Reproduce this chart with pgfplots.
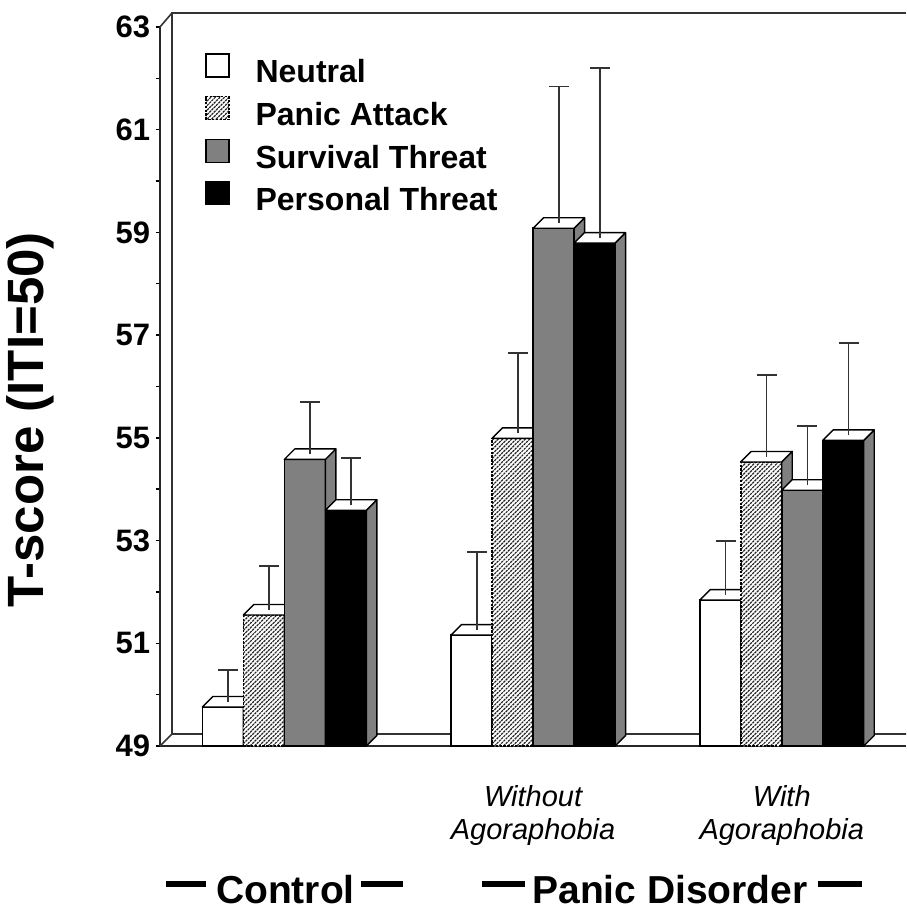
\documentclass[border=0pt]{standalone}
\usepackage{pgfplots}
\pgfplotsset{compat=1.18}
\usepackage{pgfplotstable}
\usepackage{fontspec}
\setmainfont{Liberation Sans}
\usetikzlibrary{patterns.meta,calc}

\pgfplotstableread{
g v top
0 49.76 50.48
1 51.16 52.77
2 51.84 52.99
}\tabN
\pgfplotstableread{
g v top
0 51.55 52.50
1 54.99 56.65
2 54.53 56.22
}\tabP
\pgfplotstableread{
g v top
0 54.58 55.69
1 59.08 61.84
2 53.98 55.23
}\tabS
\pgfplotstableread{
g v top
0 53.59 54.60
1 58.79 62.20
2 54.95 56.85
}\tabT

% 3D top and side faces of a bar, drawn at the bar's data point
\newcommand\drawfaces[2]{%
  \pgfmathsetmacro\hh{(\val-49)*25.68}%
  \filldraw[fill=#2, draw=black, line width=0.7pt, line join=round]
    (#1+10.25pt,0pt) -- ++(5.25pt,5.25pt) -- ++(0pt,-\hh pt) -- ++(-5.25pt,-5.25pt) -- cycle;
  \filldraw[fill=white, draw=black, line width=0.7pt, line join=round]
    (#1-10.25pt,0pt) -- ++(5.25pt,5.25pt) -- ++(20.5pt,0pt) -- ++(-5.25pt,-5.25pt) -- cycle;
}
\pgfplotsset{
  faces/.style 2 args={forget plot, only marks, mark=text, text mark={},
    scatter, visualization depends on={rawy \as \val},
    scatter/@pre marker code/.code={\drawfaces{#1}{#2}},
    scatter/@post marker code/.code={}},
  errs/.style={forget plot, draw=none, mark=none,
    error bars/.cd, y dir=plus, y explicit, error mark=|,
    error bar style={draw=black!80, line width=0.9pt},
    error mark options={draw=black!80, line width=0.9pt, mark size=5pt}},
  hatch/.style={fill=white, postaction={pattern={Lines[angle=45,distance=1.6pt,line width=0.6pt]}, pattern color=black!85}},
}

\begin{document}
\begin{tikzpicture}
\begin{axis}[
  x=124.35pt, y=25.68pt, xmin=-0.5, xmax=2.5, ymin=49, ymax=63,
  axis x line=bottom, axis y line=left,
  axis line style={-, line width=0.9pt, black!85},
  clip=true, clip mode=individual,
  ytick={49,51,...,63}, minor ytick={50,52,...,62},
  tick align=outside, major tick length=2.2pt, minor tick length=1.8pt,
  every tick/.style={line width=0.7pt, black},
  yticklabel style={font=\fontsize{15.5}{15.5}\selectfont\bfseries, inner xsep=2.5pt},
  /pgf/number format/assume math mode=true,
  xtick={1,2}, xticklabels={{Without\\Agoraphobia},{With\\Agoraphobia}},
  xticklabel style={align=center, font=\fontsize{14.5}{16.5}\selectfont\itshape, yshift=-14pt},
  x tick style={draw=none},
  legend image code/.code={\draw[#1, line width=0.6pt] (0pt,-1pt) rectangle (11.5pt,10.5pt);},
  legend style={at={(rel axis cs:0,1)}, anchor=north west, xshift=22.5pt, yshift=-13pt,
    draw=none, fill=none, inner sep=0pt, row sep=2.5pt, column sep=13pt,
    font=\fontsize{16}{16}\selectfont\bfseries,
    nodes={inner sep=0pt, text height=12pt, text depth=4pt}},
  legend cell align=left,
]
% 3D wall and floor
\draw[line width=0.8pt, black!80] (rel axis cs:0,0) -- ++(6pt,6pt) -- ++(367pt,0pt);
\draw[line width=0.8pt, black!80] (rel axis cs:0,0) ++(6pt,6pt) -- ++(0pt,360.5pt) -- ++(367pt,0pt);
\draw[line width=0.8pt, black!80] (rel axis cs:0,1) -- ++(6pt,7pt);
\coordinate (bl) at (rel axis cs:0,0);

\addplot[ybar, bar width=20.5pt, bar shift=-30.75pt, fill=white, draw=black, line width=0.8pt] table[x=g,y=v] {\tabN};
\addlegendentry{Neutral}
\addplot[faces={-30.75pt}{white}] table[x=g,y=v] {\tabN};
\addplot[errs] table[x expr=\thisrow{g}-0.2262, y expr=\thisrow{v}+0.1022, y error plus expr=\thisrow{top}-\thisrow{v}-0.1022] {\tabN};

\addplot[ybar, bar width=20.5pt, bar shift=-10.25pt, hatch, draw=black, line width=0.8pt, dash pattern=on 1.2pt off 0.7pt] table[x=g,y=v] {\tabP};
\addlegendentry{Panic Attack}
\addplot[faces={-10.25pt}{black!50}] table[x=g,y=v] {\tabP};
\addplot[errs] table[x expr=\thisrow{g}-0.0613, y expr=\thisrow{v}+0.1022, y error plus expr=\thisrow{top}-\thisrow{v}-0.1022] {\tabP};

\addplot[ybar, bar width=20.5pt, bar shift=10.25pt, fill=black!50, draw=black, line width=0.8pt] table[x=g,y=v] {\tabS};
\addlegendentry{Survival Threat}
\addplot[faces={10.25pt}{black!50}] table[x=g,y=v] {\tabS};
\addplot[errs] table[x expr=\thisrow{g}+0.1035, y expr=\thisrow{v}+0.1022, y error plus expr=\thisrow{top}-\thisrow{v}-0.1022] {\tabS};

\addplot[ybar, bar width=20.5pt, bar shift=30.75pt, fill=black, draw=black, line width=0.8pt] table[x=g,y=v] {\tabT};
\addlegendentry{Personal Threat}
\addplot[faces={30.75pt}{black!50}] table[x=g,y=v] {\tabT};
\addplot[errs] table[x expr=\thisrow{g}+0.2684, y expr=\thisrow{v}+0.1022, y error plus expr=\thisrow{top}-\thisrow{v}-0.1022] {\tabT};

\node[font=\fontsize{19.5}{19.5}\selectfont\bfseries, anchor=base, inner sep=0pt, yshift=-78.5pt] at (axis cs:0,49)
  {\rule[8pt]{20pt}{2.8pt}\hspace{5pt}Control\hspace{3pt}\rule[8pt]{21pt}{2.8pt}};
\node[font=\fontsize{19.5}{19.5}\selectfont\bfseries, anchor=base, inner sep=0pt, yshift=-78.5pt] at (axis cs:1.559,49)
  {\rule[8pt]{21.5pt}{2.8pt}\hspace{3.5pt}Panic Disorder\hspace{5pt}\rule[8pt]{22pt}{2.8pt}};
\node[font=\fontsize{25.5}{25.5}\selectfont\bfseries, rotate=90] at ($(rel axis cs:0,0)+(-65pt,163pt)$) {T-score (ITI=50)};
\end{axis}
\pgfresetboundingbox
\path[use as bounding box] ($(bl)+(-80pt,-82pt)$) rectangle ($(bl)+(373pt,373pt)$);
\end{tikzpicture}
\end{document}
